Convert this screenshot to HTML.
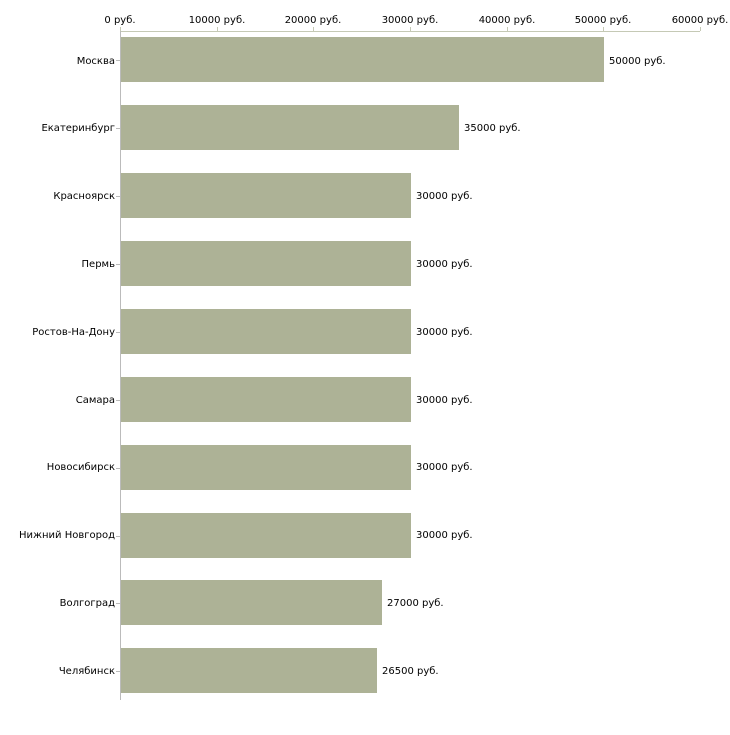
<!DOCTYPE html>
<html><head><meta charset="utf-8"><style>
body{margin:0;background:#fff;}
svg text{font-family:"DejaVu Sans","Liberation Sans",sans-serif;font-size:10px;fill:#000;}
</style></head><body>
<svg width="730" height="730" xmlns="http://www.w3.org/2000/svg">
<line x1="120" y1="31.5" x2="700" y2="31.5" stroke="#c5c9b5" stroke-width="1"/>
<g stroke="#c5c9b5">
<line x1="120.5" y1="27" x2="120.5" y2="31"/><line x1="217.5" y1="27" x2="217.5" y2="31"/>
<line x1="313.5" y1="27" x2="313.5" y2="31"/><line x1="410.5" y1="27" x2="410.5" y2="31"/>
<line x1="507.5" y1="27" x2="507.5" y2="31"/><line x1="603.5" y1="27" x2="603.5" y2="31"/>
<line x1="700.5" y1="27" x2="700.5" y2="31"/>
</g>
<g text-anchor="middle">
<text x="120" y="23">0 руб.</text><text x="217" y="23">10000 руб.</text>
<text x="313" y="23">20000 руб.</text><text x="410" y="23">30000 руб.</text>
<text x="507" y="23">40000 руб.</text><text x="603" y="23">50000 руб.</text>
<text x="700" y="23">60000 руб.</text>
</g>
<line x1="120.5" y1="31" x2="120.5" y2="700" stroke="#bbbbbb"/>
<g fill="#adb296">
<rect x="121" y="37" width="483" height="45"/>
<rect x="121" y="105" width="338" height="45"/>
<rect x="121" y="173" width="290" height="45"/>
<rect x="121" y="241" width="290" height="45"/>
<rect x="121" y="309" width="290" height="45"/>
<rect x="121" y="377" width="290" height="45"/>
<rect x="121" y="445" width="290" height="45"/>
<rect x="121" y="513" width="290" height="45"/>
<rect x="121" y="580" width="261" height="45"/>
<rect x="121" y="648" width="256" height="45"/>
</g>
<g stroke="#bbbbbb">
<line x1="116" y1="60.5" x2="120" y2="60.5"/><line x1="116" y1="128.5" x2="120" y2="128.5"/>
<line x1="116" y1="196.5" x2="120" y2="196.5"/><line x1="116" y1="264.5" x2="120" y2="264.5"/>
<line x1="116" y1="332.5" x2="120" y2="332.5"/><line x1="116" y1="400.5" x2="120" y2="400.5"/>
<line x1="116" y1="468.5" x2="120" y2="468.5"/><line x1="116" y1="536.5" x2="120" y2="536.5"/>
<line x1="116" y1="603.5" x2="120" y2="603.5"/><line x1="116" y1="671.5" x2="120" y2="671.5"/>
</g>
<g text-anchor="end">
<text x="115" y="64">Москва</text><text x="115" y="131">Екатеринбург</text>
<text x="115" y="199">Красноярск</text><text x="115" y="267">Пермь</text>
<text x="115" y="335">Ростов-На-Дону</text><text x="115" y="403">Самара</text>
<text x="115" y="470">Новосибирск</text><text x="115" y="538">Нижний Новгород</text>
<text x="115" y="606">Волгоград</text><text x="115" y="674">Челябинск</text>
</g>
<text x="609" y="64">50000 руб.</text><text x="464" y="131">35000 руб.</text>
<text x="416" y="199">30000 руб.</text><text x="416" y="267">30000 руб.</text>
<text x="416" y="335">30000 руб.</text><text x="416" y="403">30000 руб.</text>
<text x="416" y="470">30000 руб.</text><text x="416" y="538">30000 руб.</text>
<text x="387" y="606">27000 руб.</text><text x="382" y="674">26500 руб.</text>
</svg>
</body></html>
